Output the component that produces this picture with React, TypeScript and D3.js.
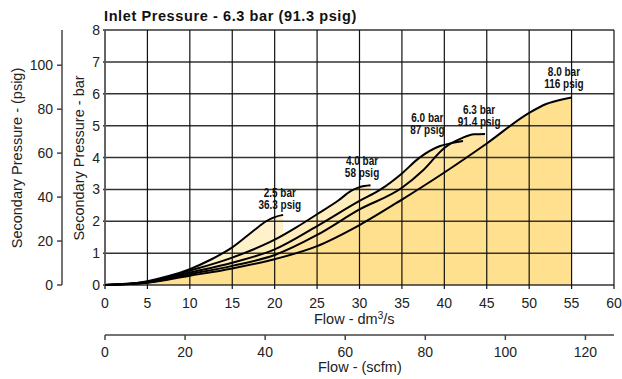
import React, { useRef, useEffect } from "react";
import * as d3 from "d3";

// flow (dm3/s) vs secondary pressure (bar), one curve per set pressure
const curve25: [number, number][] = [
  [0, 0], [2.5, 0.03], [5, 0.12], [7.5, 0.28], [10, 0.5], [12.5, 0.8],
  [15, 1.18], [17.5, 1.7], [19, 2.0], [20, 2.13], [21, 2.2],
];
const curve40: [number, number][] = [
  [0, 0], [5, 0.1], [10, 0.45], [15, 0.86], [20, 1.42], [22.5, 1.8],
  [25, 2.22], [27.5, 2.65], [29, 2.95], [30, 3.07], [31.3, 3.13],
];
const curve60: [number, number][] = [
  [0, 0], [5, 0.09], [10, 0.39], [15, 0.7], [20, 1.12], [25, 1.85],
  [30, 2.64], [32.5, 3.0], [35, 3.5], [37, 3.98], [39.5, 4.36], [41, 4.46], [42.2, 4.52],
];
const curve63: [number, number][] = [
  [0, 0], [5, 0.08], [10, 0.34], [15, 0.6], [20, 0.94], [25, 1.57],
  [30, 2.37], [35, 3.05], [37.5, 3.6], [40, 4.3], [42, 4.6], [43.5, 4.73], [44.8, 4.74],
];
const curve80: [number, number][] = [
  [0, 0], [5, 0.07], [10, 0.29], [15, 0.52], [20, 0.81], [25, 1.22],
  [30, 1.88], [35, 2.68], [40, 3.53], [45, 4.44], [50, 5.4], [52, 5.68], [54, 5.83], [55, 5.88],
];

const curves = [curve25, curve40, curve60, curve63, curve80];
const barLabels = ["2.5 bar", "4.0 bar", "6.0 bar", "6.3 bar", "8.0 bar"];
const psigLabels = ["36.3 psig", "58 psig", "87 psig", "91.4 psig", "116 psig"];
// where the label block sits (flow, bar of first baseline)
const labelFlow = [20.6, 30.3, 38.0, 44.1, 54.1];
const labelBar = [2.75, 3.77, 5.12, 5.37, 6.57];

const flowTicks = [0, 5, 10, 15, 20, 25, 30, 35, 40, 45, 50, 55, 60];
const barTicks = [0, 1, 2, 3, 4, 5, 6, 7, 8];
const psigTicks = [0, 20, 40, 60, 80, 100];
const scfmTicks = [0, 20, 40, 60, 80, 100, 120];

const BAR_TO_PSIG = 14.5038;
const DM3S_TO_SCFM = 2.11888;

const FILLS = ["#fff1c9", "#ffedbb", "#ffe9ad", "#ffe5a0", "#fee08e"];
const FONT = "'Liberation Sans', Arial, Helvetica, sans-serif";

const W = 622;
const H = 379;
const P = { left: 105, right: 614, top: 30, bottom: 285 };

export default function App() {
  const svgRef = useRef<SVGSVGElement | null>(null);

  useEffect(() => {
    document.body.style.margin = "0";
    if (!svgRef.current) return;
    const svg = d3.select(svgRef.current);
    svg.selectAll("*").remove();

    const x = d3.scaleLinear().domain([0, 60]).range([P.left, P.right]);
    const y = d3.scaleLinear().domain([0, 8]).range([P.bottom, P.top]);
    const yPsig = d3.scaleLinear().domain([0, 8 * BAR_TO_PSIG]).range([P.bottom, P.top]);
    const xScfm = d3.scaleLinear().domain([0, 60 * DM3S_TO_SCFM]).range([P.left, P.right]);

    // fills, top curve first so lower ones paint over it
    const area = d3
      .area<[number, number]>()
      .x((d) => x(d[0]))
      .y0(y(0))
      .y1((d) => y(d[1]))
      .curve(d3.curveMonotoneX);
    curves.forEach((c, i) => {
      svg.append("path").datum(c).attr("d", area as never).attr("fill", FILLS[i]);
    });

    // grid
    const grid = svg.append("g");
    grid
      .selectAll("line.h")
      .data(barTicks)
      .join("line")
      .attr("x1", P.left - 2)
      .attr("x2", P.right)
      .attr("y1", (d) => y(d))
      .attr("y2", (d) => y(d))
      .attr("stroke", "#333")
      .attr("stroke-width", 1.5);
    grid
      .selectAll("line.v")
      .data(flowTicks)
      .join("line")
      .attr("x1", (d) => x(d))
      .attr("x2", (d) => x(d))
      .attr("y1", P.top)
      .attr("y2", P.bottom + 4)
      .attr("stroke", (d) => (d === 0 ? "#555" : "#111"))
      .attr("stroke-width", (d) => (d === 0 ? 1.8 : 1.2));

    // curves
    const line = d3
      .line<[number, number]>()
      .x((d) => x(d[0]))
      .y((d) => y(d[1]))
      .curve(d3.curveMonotoneX);
    curves.forEach((c) => {
      svg
        .append("path")
        .datum(c)
        .attr("d", line as never)
        .attr("fill", "none")
        .attr("stroke", "#000")
        .attr("stroke-width", 2);
    });

    // curve labels, squeezed horizontally to look like a condensed face
    curves.forEach((_, i) => {
      const g = svg
        .append("g")
        .attr("transform", `translate(${x(labelFlow[i])},${y(labelBar[i])}) scale(0.8,1)`);
      const t = g
        .append("text")
        .attr("font-family", FONT)
        .attr("font-weight", "bold")
        .attr("font-size", 12.5)
        .attr("text-anchor", "middle")
        .attr("fill", "#111");
      t.append("tspan").attr("x", 0).attr("y", 0).text(barLabels[i]);
      t.append("tspan").attr("x", 0).attr("y", 12).text(psigLabels[i]);
    });

    // bar axis labels
    svg
      .selectAll("text.bar")
      .data(barTicks)
      .join("text")
      .attr("x", 100)
      .attr("y", (d) => y(d) + 5)
      .attr("text-anchor", "end")
      .attr("font-family", FONT)
      .attr("font-size", 14)
      .attr("fill", "#222")
      .text((d) => d);

    // psig axis
    const ps = svg.append("g");
    ps.append("line")
      .attr("x1", 62).attr("x2", 62)
      .attr("y1", P.top).attr("y2", P.bottom)
      .attr("stroke", "#444").attr("stroke-width", 1.5);
    ps.selectAll("line.t")
      .data(psigTicks)
      .join("line")
      .attr("x1", 57).attr("x2", 62)
      .attr("y1", (d) => yPsig(d)).attr("y2", (d) => yPsig(d))
      .attr("stroke", "#444").attr("stroke-width", 1.5);
    ps.selectAll("text")
      .data(psigTicks)
      .join("text")
      .attr("x", 53)
      .attr("y", (d) => yPsig(d) + 5)
      .attr("text-anchor", "end")
      .attr("font-family", FONT)
      .attr("font-size", 14)
      .attr("fill", "#222")
      .text((d) => d);

    // flow dm3/s labels
    svg
      .selectAll("text.flow")
      .data(flowTicks)
      .join("text")
      .attr("x", (d) => x(d))
      .attr("y", 308)
      .attr("text-anchor", "middle")
      .attr("font-family", FONT)
      .attr("font-size", 14)
      .attr("fill", "#222")
      .text((d) => d);

    // scfm axis
    const sc = svg.append("g");
    sc.append("line")
      .attr("x1", P.left).attr("x2", P.right)
      .attr("y1", 335).attr("y2", 335)
      .attr("stroke", "#444").attr("stroke-width", 1.5);
    sc.selectAll("line.t")
      .data(scfmTicks)
      .join("line")
      .attr("x1", (d) => xScfm(d)).attr("x2", (d) => xScfm(d))
      .attr("y1", 335).attr("y2", 340)
      .attr("stroke", "#444").attr("stroke-width", 1.5);
    sc.selectAll("text")
      .data(scfmTicks)
      .join("text")
      .attr("x", (d) => xScfm(d))
      .attr("y", 357)
      .attr("text-anchor", "middle")
      .attr("font-family", FONT)
      .attr("font-size", 14)
      .attr("fill", "#222")
      .text((d) => d);

    // axis titles
    const fl = svg
      .append("text")
      .attr("x", 314)
      .attr("y", 324)
      .attr("font-family", FONT)
      .attr("font-size", 14.5)
      .attr("fill", "#222");
    fl.append("tspan").text("Flow - dm");
    fl.append("tspan").attr("dy", -5).attr("font-size", 10).text("3");
    fl.append("tspan").attr("dy", 5).text("/s");

    svg
      .append("text")
      .attr("x", 318)
      .attr("y", 372)
      .attr("font-family", FONT)
      .attr("font-size", 14.5)
      .attr("fill", "#222")
      .text("Flow - (scfm)");

    svg
      .append("text")
      .attr("transform", "translate(84,158) rotate(-90)")
      .attr("text-anchor", "middle")
      .attr("font-family", FONT)
      .attr("font-size", 14.5)
      .attr("fill", "#222")
      .text("Secondary Pressure - bar");

    svg
      .append("text")
      .attr("transform", "translate(22,158) rotate(-90)")
      .attr("text-anchor", "middle")
      .attr("font-family", FONT)
      .attr("font-size", 14.5)
      .attr("fill", "#222")
      .text("Secondary Pressure - (psig)");

    svg
      .append("text")
      .attr("x", 104)
      .attr("y", 21)
      .attr("font-family", FONT)
      .attr("font-weight", "bold")
      .attr("font-size", 14.5)
      .attr("letter-spacing", 0.6)
      .attr("fill", "#111")
      .text("Inlet Pressure - 6.3 bar (91.3 psig)");
  }, []);

  return <svg ref={svgRef} width={W} height={H} style={{ display: "block", background: "#fff" }} />;
}
